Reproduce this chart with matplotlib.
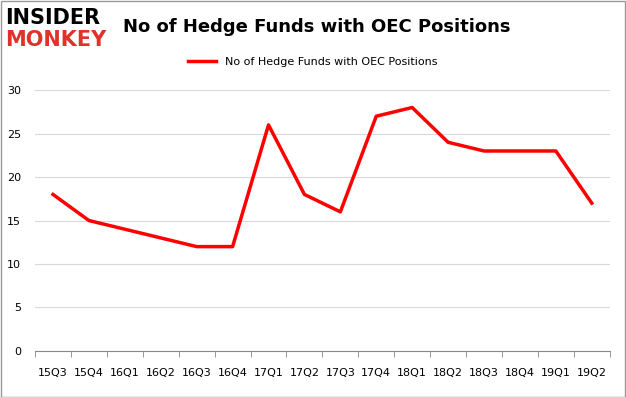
import matplotlib.pyplot as plt
import numpy as np

quarters = ['15Q3', '15Q4', '16Q1', '16Q2', '16Q3', '16Q4', '17Q1', '17Q2',
            '17Q3', '17Q4', '18Q1', '18Q2', '18Q3', '18Q4', '19Q1', '19Q2']
funds = [18, 15, 14, 13, 12, 12, 26, 18, 16, 27, 28, 24, 23, 23, 23, 17]
series_name = 'No of Hedge Funds with OEC Positions'

fig = plt.figure(figsize=(6.26, 3.97), dpi=100)
ax = fig.add_axes([0.056, 0.116, 0.918, 0.657])

x = np.arange(len(quarters))
ax.plot(x, funds, color='#ff0000', lw=2.5, label=series_name)

ax.set_xlim(-0.5, len(quarters) - 0.5)
ax.set_ylim(0, 30)
ax.set_yticks(range(0, 31, 5))
ax.set_xticks(x)
ax.set_xticklabels(quarters, fontsize=8)
ax.set_xticks(np.arange(-0.5, len(quarters), 1), minor=True)
ax.tick_params(axis='x', which='major', length=0, pad=12)
ax.tick_params(axis='x', which='minor', length=4, color='#888888')
ax.tick_params(axis='y', length=0, labelsize=8, pad=10)
ax.grid(axis='y', color='#d9d9d9', lw=0.8)
ax.set_axisbelow(True)
for s in ['top', 'right', 'left']:
    ax.spines[s].set_visible(False)
ax.spines['bottom'].set_color('#888888')

# titolo e logo
fig.text(0.197, 0.932, series_name, fontsize=13, fontweight='bold', va='center')
fig.text(0.008, 0.955, 'INSIDER', fontsize=15, fontweight='bold', color='black', va='center')
fig.text(0.008, 0.898, 'MONKEY', fontsize=15, fontweight='bold', color='#e0312a', va='center')
fig.legend(loc='center', bbox_to_anchor=(0.5, 0.843), frameon=False, fontsize=8,
           handlelength=2.5)

fig.patches.append(plt.Rectangle((0.001, 0.001), 0.997, 0.997, transform=fig.transFigure,
                                 fill=False, edgecolor='#999999', lw=1))

fig.savefig('out.png', dpi=100)
